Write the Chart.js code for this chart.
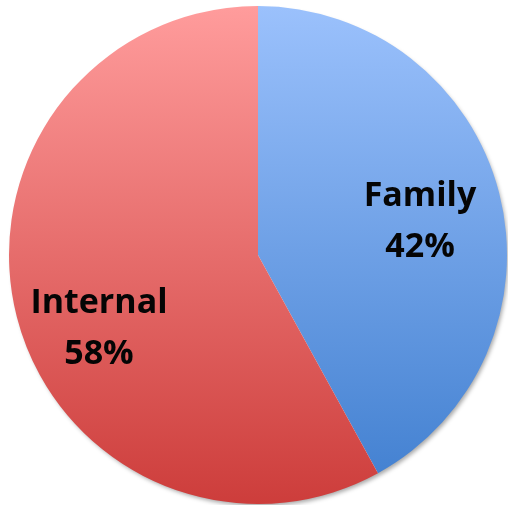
<!DOCTYPE html>
<html>
<head>
<meta charset="utf-8">
<script src="https://cdn.jsdelivr.net/npm/chart.js@4/dist/chart.umd.min.js"></script>
<style>
  html, body { margin: 0; padding: 0; background: #fff; }
  #wrap { width: 508px; height: 505px; }
</style>
</head>
<body>
<div id="wrap"><canvas id="myChart"></canvas></div>
<script>
// Share of cases by type
const categories = ["Family", "Internal"];
const shares = [42, 58];

// Top/bottom colours of each slice gradient
const topColors = ["#9bc1fc", "#ff9c9c"];
const bottomColors = ["#3f7ecf", "#cd3d3b"];

const ctx = document.getElementById("myChart").getContext("2d");

// Vertical gradient spanning the pie for each slice
function sliceFill(context) {
  const chart = context.chart;
  const area = chart.chartArea;
  if (!area) return topColors[context.dataIndex];
  const g = chart.ctx.createLinearGradient(0, area.top, 0, area.bottom);
  g.addColorStop(0, topColors[context.dataIndex]);
  g.addColorStop(1, bottomColors[context.dataIndex]);
  return g;
}

// Soft shadow under the whole pie
const pieShadow = {
  id: "pieShadow",
  beforeDatasetsDraw(chart) {
    const arc = chart.getDatasetMeta(0).data[0];
    if (!arc) return;
    const { x, y, outerRadius } = arc.getProps(["x", "y", "outerRadius"], true);
    const c = chart.ctx;
    c.save();
    c.shadowColor = "rgba(0,0,0,0.35)";
    c.shadowBlur = 4;
    c.shadowOffsetX = 2;
    c.shadowOffsetY = 3;
    c.fillStyle = "#fff";
    c.beginPath();
    c.arc(x, y, outerRadius - 1, 0, Math.PI * 2);
    c.fill();
    c.restore();
  }
};

// Category name and percentage inside each slice
const sliceLabels = {
  id: "sliceLabels",
  afterDatasetsDraw(chart, args, opts) {
    const meta = chart.getDatasetMeta(0);
    const values = chart.data.datasets[0].data;
    const total = values.reduce((a, b) => a + b, 0);
    const c = chart.ctx;
    c.save();
    c.fillStyle = "#050505";
    c.font = "bold 34px 'Open Sans'";
    c.textAlign = "center";
    c.textBaseline = "middle";
    meta.data.forEach((arc, i) => {
      const p = arc.getProps(["x", "y", "startAngle", "endAngle", "outerRadius"], true);
      const mid = (p.startAngle + p.endAngle) / 2;
      const r = p.outerRadius * opts.radius;
      const off = opts.offsets[i];
      const cx = p.x + Math.cos(mid) * r + off[0];
      const cy = p.y + Math.sin(mid) * r + off[1];
      const pct = Math.round(values[i] / total * 100) + "%";
      c.fillText(chart.data.labels[i], cx, cy - opts.lineGap / 2);
      c.fillText(pct, cx, cy + opts.lineGap / 2);
    });
    c.restore();
  }
};

new Chart(ctx, {
  type: "pie",
  data: {
    labels: categories,
    datasets: [{
      data: shares,
      backgroundColor: sliceFill,
      borderWidth: 0
    }]
  },
  options: {
    responsive: true,
    maintainAspectRatio: false,
    animation: false,
    layout: { padding: { left: 9, right: 1, top: 6, bottom: 1 } },
    plugins: {
      legend: { display: false },
      tooltip: { enabled: false },
      sliceLabels: { radius: 0.68, lineGap: 51, offsets: [[-2, 9], [5, 32]] }
    }
  },
  plugins: [pieShadow, sliceLabels]
});
</script>
</body>
</html>
